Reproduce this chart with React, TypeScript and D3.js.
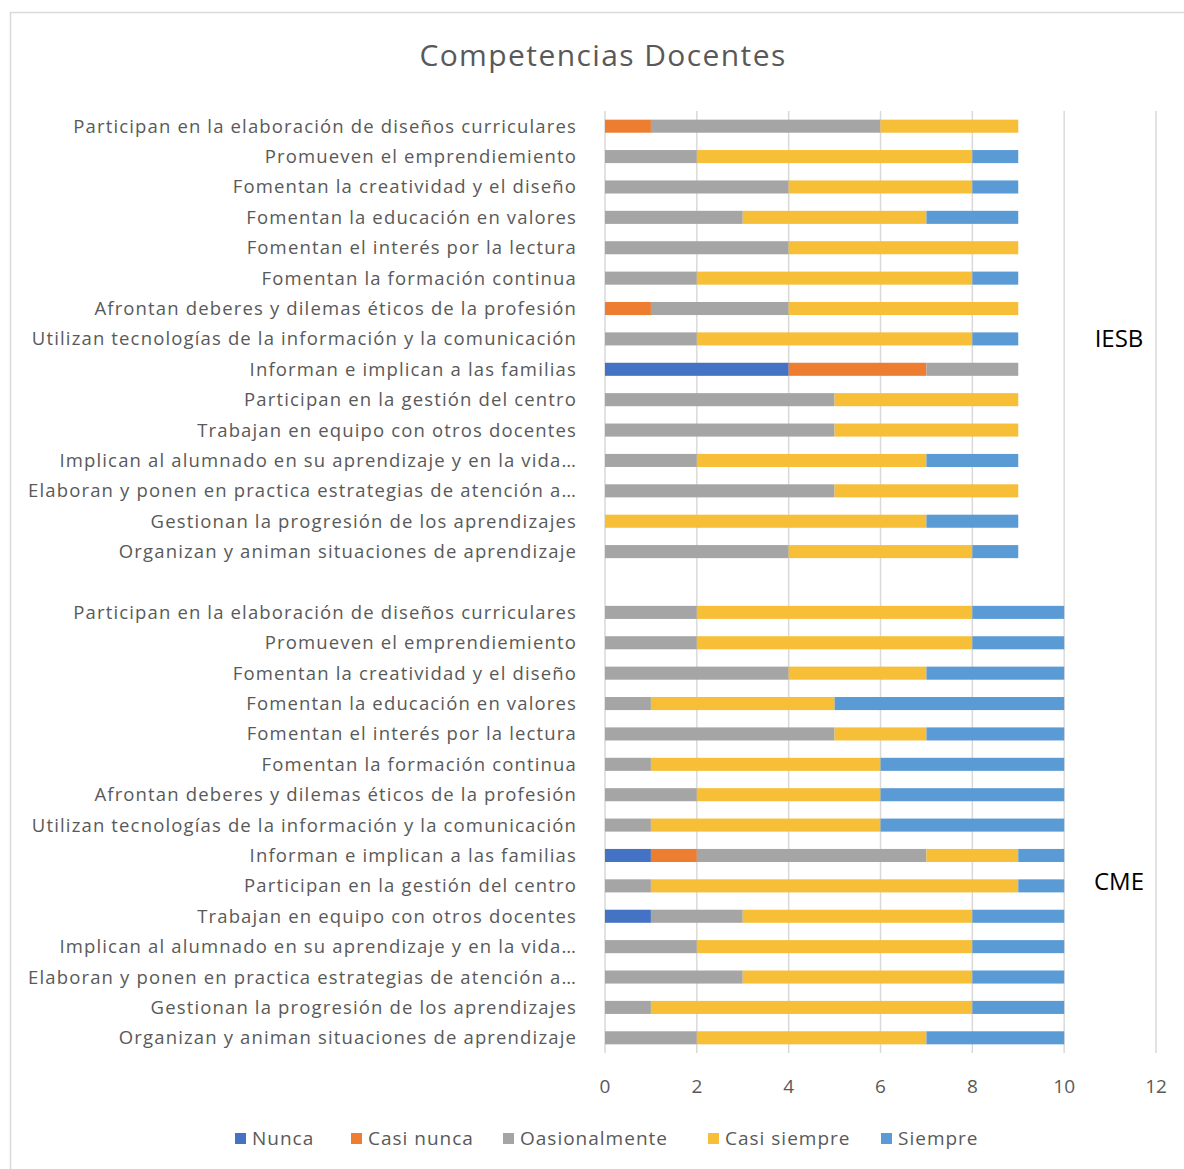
import React from 'react';
import * as d3 from 'd3';

const competencias = [
  'Participan en la elaboración de diseños curriculares',
  'Promueven el emprendiemiento',
  'Fomentan la creatividad y el diseño',
  'Fomentan la educación en valores',
  'Fomentan el interés por la lectura',
  'Fomentan la formación continua',
  'Afrontan deberes y dilemas éticos de la profesión',
  'Utilizan tecnologías de la información y la comunicación',
  'Informan e implican a las familias',
  'Participan en la gestión del centro',
  'Trabajan en equipo con otros docentes',
  'Implican al alumnado en su aprendizaje y en la vida…',
  'Elaboran y ponen en practica estrategias de atención a…',
  'Gestionan la progresión de los aprendizajes',
  'Organizan y animan situaciones de aprendizaje',
];

const grupos = ['IESB', 'CME'];
const series = ['Nunca', 'Casi nunca', 'Oasionalmente', 'Casi siempre', 'Siempre'];
const colores = ['#4472C4', '#ED7D31', '#A5A5A5', '#F7BE37', '#5B9BD5'];
const ticks = [0, 2, 4, 6, 8, 10, 12];

// IESB, same order as competencias (top to bottom)
const iesbNunca = [0, 0, 0, 0, 0, 0, 0, 0, 4, 0, 0, 0, 0, 0, 0];
const iesbCasiNunca = [1, 0, 0, 0, 0, 0, 1, 0, 3, 0, 0, 0, 0, 0, 0];
const iesbOcasional = [5, 2, 4, 3, 4, 2, 3, 2, 2, 5, 5, 2, 5, 0, 4];
const iesbCasiSiempre = [3, 6, 4, 4, 5, 6, 5, 6, 0, 4, 4, 5, 4, 7, 4];
const iesbSiempre = [0, 1, 1, 2, 0, 1, 0, 1, 0, 0, 0, 2, 0, 2, 1];

// CME
const cmeNunca = [0, 0, 0, 0, 0, 0, 0, 0, 1, 0, 1, 0, 0, 0, 0];
const cmeCasiNunca = [0, 0, 0, 0, 0, 0, 0, 0, 1, 0, 0, 0, 0, 0, 0];
const cmeOcasional = [2, 2, 4, 1, 5, 1, 2, 1, 5, 1, 2, 2, 3, 1, 2];
const cmeCasiSiempre = [6, 6, 3, 4, 2, 5, 4, 5, 2, 8, 5, 6, 5, 7, 5];
const cmeSiempre = [2, 2, 3, 5, 3, 4, 4, 4, 1, 1, 2, 2, 2, 2, 3];

const valores: Record<string, number[][]> = {
  IESB: [iesbNunca, iesbCasiNunca, iesbOcasional, iesbCasiSiempre, iesbSiempre],
  CME: [cmeNunca, cmeCasiNunca, cmeOcasional, cmeCasiSiempre, cmeSiempre],
};

type Row = { key: string; label: string; grupo: string; [s: string]: any };

const rows: Row[] = [];
grupos.forEach((g, gi) => {
  if (gi > 0) rows.push({ key: 'gap' + gi, label: '', grupo: '' });
  competencias.forEach((c, i) => {
    const r: Row = { key: g + i, label: c, grupo: g };
    series.forEach((s, si) => (r[s] = valores[g][si][i]));
    rows.push(r);
  });
});

const W = 1184;
const H = 1169;
const margin = { top: 111, left: 605, right: 28, bottom: 116 };
const font = "'Open Sans', 'Noto Sans', sans-serif";
const gris = '#595959';

export default function App() {
  const x = d3.scaleLinear().domain([0, 12]).range([margin.left, W - margin.right]);
  const y = d3
    .scaleBand<string>()
    .domain(rows.map((r) => r.key))
    .range([margin.top, H - margin.bottom])
    .paddingInner(0.57)
    .paddingOuter(0.285);

  const dataRows = rows.filter((r) => r.grupo);
  const stacked = d3.stack<Row>().keys(series)(dataRows);

  const grupoY: Record<string, number> = {
    IESB: y('IESB7')! + y.bandwidth() / 2,
    CME: y('CME9')! + y.bandwidth() / 2 - 4,
  };

  const legendX = [235, 351, 503, 708, 881];

  return (
    <svg
      width={W}
      height={H}
      style={{ position: 'absolute', left: 0, top: 0, background: '#fff' }}
      fontFamily={font}
    >
      <rect x={10.5} y={12.5} width={W} height={H} fill="#fff" stroke="#d9d9d9" strokeWidth={1.5} />
      <text x={603} y={66} textAnchor="middle" fontSize={30} letterSpacing={1.4} fill={gris}>
        Competencias Docentes
      </text>

      {ticks.map((t) => (
        <g key={t}>
          <line x1={x(t)} x2={x(t)} y1={margin.top} y2={H - margin.bottom} stroke="#d9d9d9" strokeWidth={1.5} />
          <text x={x(t)} y={1093} textAnchor="middle" fontSize={19} fill={gris}>
            {t}
          </text>
        </g>
      ))}

      {stacked.map((layer, li) => (
        <g key={layer.key} fill={colores[li]}>
          {layer.map((d, i) => (
            <rect
              key={i}
              x={x(d[0])}
              y={y(dataRows[i].key)}
              width={x(d[1]) - x(d[0])}
              height={y.bandwidth()}
            />
          ))}
        </g>
      ))}

      {dataRows.map((r) => (
        <text
          key={r.key}
          x={577}
          y={y(r.key)! + y.bandwidth() / 2}
          dy="0.35em"
          textAnchor="end"
          fontSize={18.5}
          letterSpacing={1.15}
          fill={gris}
        >
          {r.label}
        </text>
      ))}

      {grupos.map((g) => (
        <text key={g} x={1119} y={grupoY[g]} dy="0.35em" textAnchor="middle" fontSize={24} fill="#000">
          {g}
        </text>
      ))}

      {series.map((s, i) => (
        <g key={s} transform={`translate(${legendX[i]},1133)`}>
          <rect width={11} height={11} fill={colores[i]} />
          <text x={17} y={12} fontSize={19} letterSpacing={1} fill={gris}>
            {s}
          </text>
        </g>
      ))}
    </svg>
  );
}
